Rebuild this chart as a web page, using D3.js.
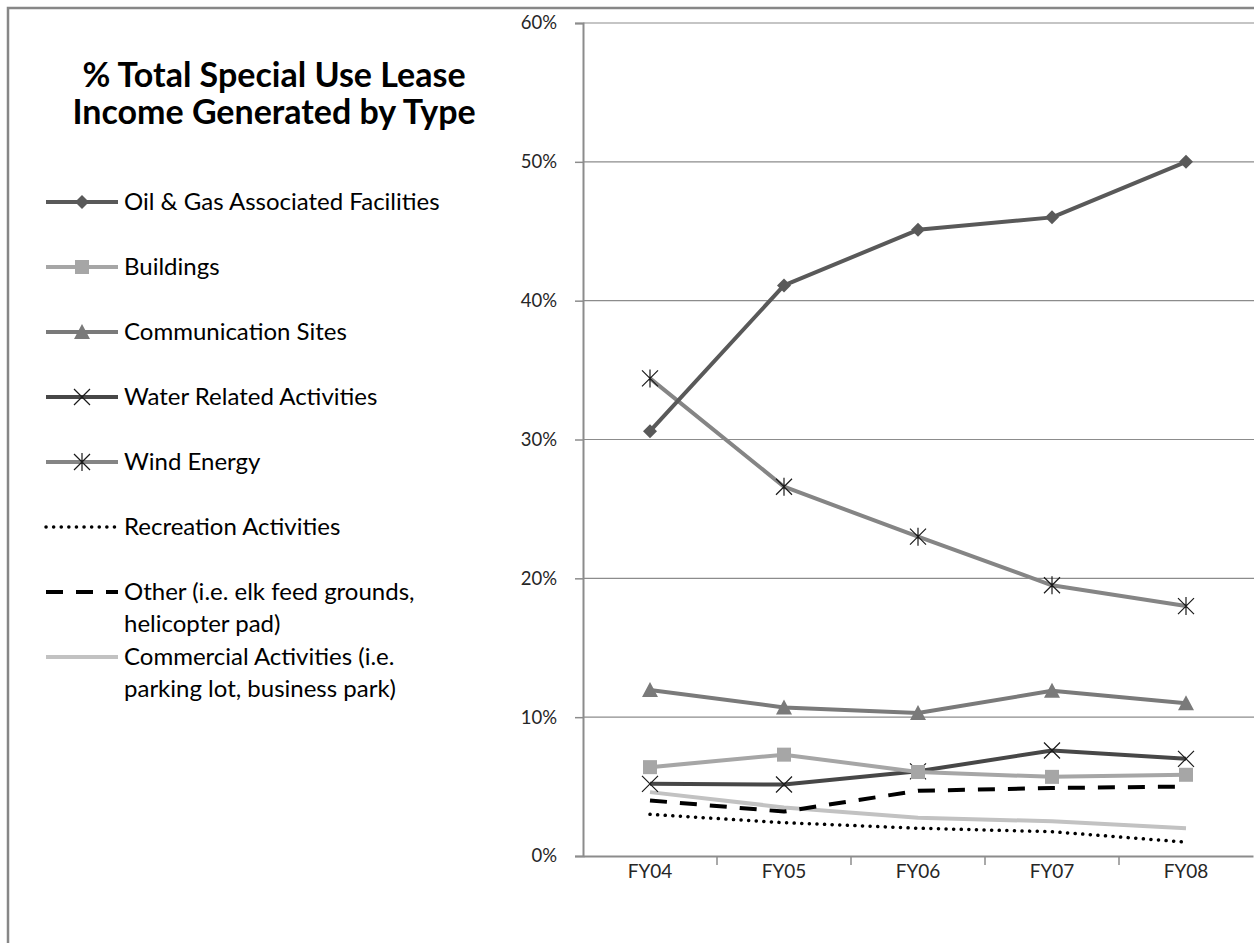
<!DOCTYPE html>
<html>
<head>
<meta charset="utf-8">
<script src="https://cdn.jsdelivr.net/npm/d3@7"></script>
<style>
  html, body { margin: 0; padding: 0; background: #fff; }
  svg { display: block; font-family: Lato, "Open Sans", sans-serif; }
</style>
</head>
<body>
<svg id="chart" width="1254" height="943"></svg>
<script>
// Fiscal years on the x axis
const categories = ["FY04", "FY05", "FY06", "FY07", "FY08"];

// Share of total special use lease income (%) by type
const oilGas        = [30.6, 41.1, 45.1, 46.0, 50.0];
const buildings     = [6.4, 7.3, 6.05, 5.7, 5.85];
const communication = [11.95, 10.7, 10.3, 11.9, 11.0];
const water         = [5.2, 5.15, 6.1, 7.6, 7.0];
const wind          = [34.4, 26.6, 23.0, 19.5, 18.0];
const recreation    = [3.0, 2.4, 2.0, 1.75, 1.0];
const other         = [4.0, 3.2, 4.7, 4.9, 5.0];
const commercial    = [4.6, 3.5, 2.75, 2.5, 2.0];

const yTicks = [0, 10, 20, 30, 40, 50, 60];

const titleLines = ["% Total Special Use Lease", "Income Generated by Type"];

const seriesNames = [
  ["Oil & Gas Associated Facilities"],
  ["Buildings"],
  ["Communication Sites"],
  ["Water Related Activities"],
  ["Wind Energy"],
  ["Recreation Activities"],
  ["Other (i.e. elk feed grounds,", "helicopter pad)"],
  ["Commercial Activities (i.e.", "parking lot, business park)"]
];

const series = [
  { name: seriesNames[0], values: oilGas,        color: "#595959", width: 4,   dash: null,     marker: "diamond" },
  { name: seriesNames[1], values: buildings,     color: "#a6a6a6", width: 4,   dash: null,     marker: "square" },
  { name: seriesNames[2], values: communication, color: "#7a7a7a", width: 4,   dash: null,     marker: "triangle" },
  { name: seriesNames[3], values: water,         color: "#474747", width: 4,   dash: null,     marker: "x" },
  { name: seriesNames[4], values: wind,          color: "#858585", width: 4,   dash: null,     marker: "star" },
  { name: seriesNames[5], values: recreation,    color: "#000000", width: 3.5, dash: "0.1,7.5", cap: "round", marker: null },
  { name: seriesNames[6], values: other,         color: "#000000", width: 4,   dash: "17,13",  marker: null },
  { name: seriesNames[7], values: commercial,    color: "#c2c2c2", width: 4,   dash: null,     marker: null }
];

const svg = d3.select("#chart");
const W = 1254, H = 943;

// Outer frame (top and left edges visible)
svg.append("path")
  .attr("d", `M8,${H} V8 H${W}`)
  .attr("fill", "none")
  .attr("stroke", "#878787")
  .attr("stroke-width", 2.5);

const plot = { left: 583, right: 1253, top: 23, bottom: 856 };

const x = d3.scaleBand().domain(categories).range([plot.left, plot.right]);
const y = d3.scaleLinear().domain([0, 60]).range([plot.bottom, plot.top]);

// Horizontal gridlines
svg.append("g")
  .selectAll("line")
  .data(yTicks.filter(t => t > 0))
  .join("line")
  .attr("x1", plot.left).attr("x2", W)
  .attr("y1", d => y(d)).attr("y2", d => y(d))
  .attr("stroke", "#8c8c8c").attr("stroke-width", 1.2);

// Y axis
const yAxis = svg.append("g")
  .attr("transform", `translate(${plot.left},0)`)
  .call(d3.axisLeft(y).tickValues(yTicks).tickFormat(d => d + "%").tickSize(8).tickPadding(18));
yAxis.select(".domain").attr("stroke", "#8c8c8c").attr("stroke-width", 2);
yAxis.selectAll(".tick line").attr("stroke", "#8c8c8c").attr("stroke-width", 1.5);
yAxis.selectAll(".tick text")
  .attr("fill", "#262626").attr("font-size", 18.5).attr("font-family", "Lato, sans-serif");

// X axis
const xAxis = svg.append("g")
  .attr("transform", `translate(0,${plot.bottom})`)
  .call(d3.axisBottom(x).tickSize(0).tickPadding(9));
xAxis.select(".domain").attr("stroke", "#8c8c8c").attr("stroke-width", 2);
xAxis.selectAll(".tick text")
  .attr("fill", "#262626").attr("font-size", 19).attr("font-family", "Lato, sans-serif");
// Tick marks sit between categories
svg.append("g")
  .selectAll("line")
  .data(categories.slice(1))
  .join("line")
  .attr("x1", d => x(d)).attr("x2", d => x(d))
  .attr("y1", plot.bottom).attr("y2", plot.bottom + 9)
  .attr("stroke", "#8c8c8c").attr("stroke-width", 1.5);

// Marker drawing helper
function drawMarker(g, type, color, cx, cy) {
  const s = 7;
  if (type === "diamond") {
    g.append("path").attr("d", `M${cx},${cy - s} L${cx + s},${cy} L${cx},${cy + s} L${cx - s},${cy} Z`).attr("fill", color);
  } else if (type === "square") {
    g.append("rect").attr("x", cx - s).attr("y", cy - s).attr("width", 2 * s).attr("height", 2 * s).attr("fill", color);
  } else if (type === "triangle") {
    g.append("path").attr("d", `M${cx},${cy - s - 1} L${cx + s + 1},${cy + s} L${cx - s - 1},${cy + s} Z`).attr("fill", color);
  } else if (type === "x") {
    g.append("path").attr("d", `M${cx - s - 1},${cy - s - 1} L${cx + s + 1},${cy + s + 1} M${cx + s + 1},${cy - s - 1} L${cx - s - 1},${cy + s + 1}`)
      .attr("stroke", "#1a1a1a").attr("stroke-width", 1.2).attr("fill", "none");
  } else if (type === "star") {
    g.append("path").attr("d", `M${cx - s - 1},${cy - s - 1} L${cx + s + 1},${cy + s + 1} M${cx + s + 1},${cy - s - 1} L${cx - s - 1},${cy + s + 1} M${cx},${cy - s - 2} L${cx},${cy + s + 2}`)
      .attr("stroke", "#1a1a1a").attr("stroke-width", 1.2).attr("fill", "none");
  }
}

const line = d3.line()
  .x((d, i) => x(categories[i]) + x.bandwidth() / 2)
  .y(d => y(d));

// Draw series bottom-up so the large series end on top
const order = [7, 5, 6, 3, 1, 2, 4, 0];
const linesG = svg.append("g");
order.forEach(k => {
  const s = series[k];
  const g = linesG.append("g");
  g.append("path")
    .datum(s.values)
    .attr("d", line)
    .attr("fill", "none")
    .attr("stroke", s.color)
    .attr("stroke-width", s.width)
    .attr("stroke-linecap", s.cap || "butt")
    .attr("stroke-linejoin", "round")
    .attr("stroke-dasharray", s.dash);
  if (s.marker) {
    s.values.forEach((v, i) => drawMarker(g, s.marker, s.color, x(categories[i]) + x.bandwidth() / 2, y(v)));
  }
});

// Title
svg.append("text")
  .attr("text-anchor", "middle")
  .attr("font-size", 34).attr("font-weight", "bold").attr("fill", "#000")
  .selectAll("tspan")
  .data(titleLines)
  .join("tspan")
  .attr("x", 274)
  .attr("y", (d, i) => 87 + i * 37)
  .text(d => d);

// Legend
const legendRows = [202, 267, 332, 397, 462, 527, 592, 657];
const legend = svg.append("g");
series.forEach((s, k) => {
  const ly = legendRows[k];
  const g = legend.append("g");
  g.append("line")
    .attr("x1", 46).attr("x2", 118)
    .attr("y1", ly).attr("y2", ly)
    .attr("stroke", s.color)
    .attr("stroke-width", s.width)
    .attr("stroke-linecap", s.cap || "butt")
    .attr("stroke-dasharray", s.dash);
  if (s.marker) drawMarker(g, s.marker, s.color, 82, ly);
  g.append("text")
    .attr("font-size", 24).attr("fill", "#000")
    .selectAll("tspan")
    .data(s.name)
    .join("tspan")
    .attr("x", 124)
    .attr("y", (d, i) => ly + 8 + i * 32)
    .text(d => d);
});
</script>
</body>
</html>
